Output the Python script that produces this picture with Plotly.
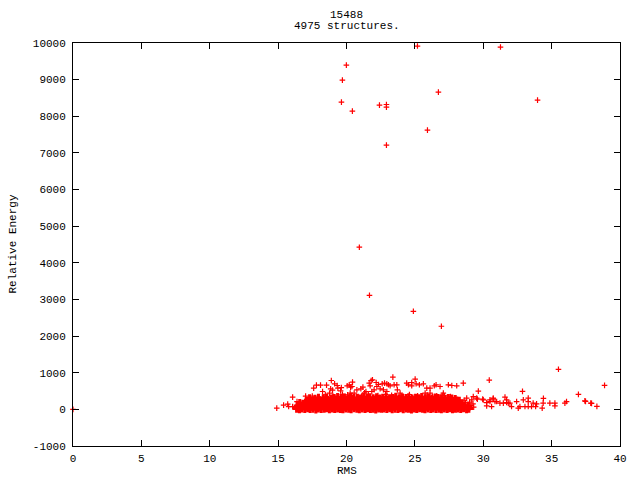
import plotly.graph_objects as go

# ---------------- data ----------------
title_lines = ["15488", "4975 structures."]
x_label = "RMS"
y_label = "Relative Energy"
x_ticks = [0, 5, 10, 15, 20, 25, 30, 35, 40]
y_ticks = [-1000, 0, 1000, 2000, 3000, 4000, 5000, 6000, 7000, 8000, 9000, 10000]

# isolated high-energy structures
high_x = [0.0, 25.19, 31.26, 19.99, 19.70, 26.72, 19.63, 33.97, 22.41, 22.92, 22.92, 20.43,
          25.92, 22.92, 20.94, 21.68, 24.89, 26.94, 35.50, 38.87, 36.96, 37.48, 37.92,
          38.31, 32.87, 34.40]
high_y = [0, 9917, 9890, 9397, 8988, 8660, 8387, 8442, 8305, 8322, 8250, 8141,
          7622, 7212, 4426, 3114, 2677, 2268, 1093, 656, 410, 219, 164,
          82, 492, 300]

# scattered structures around the dense band
sparse_x = [14.9, 15.4, 15.7, 15.77, 16.06, 16.06, 16.38, 17.01, 17.6, 17.8, 18.1, 18.25,
            18.54, 18.89, 19.13, 18.84, 18.98, 19.32, 19.37, 19.62, 19.57, 18.76, 20.05,
            20.2, 20.3, 20.4, 20.44, 20.27, 20.08, 20.56, 20.76, 21.05, 21.2, 21.32, 21.42,
            21.66, 21.73, 21.8, 21.9, 22.17, 22.22, 22.34, 22.61, 22.78, 22.95, 23.07,
            21.85, 22.02, 22.46, 22.7, 22.95,
            23.39, 25.02, 30.44, 28.54, 29.64, 23.19, 23.48, 23.68, 24.4, 24.53, 24.77,
            25.09, 25.33, 25.62, 24.77, 25.87, 26.11, 26.42, 26.55, 26.84, 27.45, 27.7,
            28.06, 23.72, 23.92, 25.75, 26.11, 26.6, 27.08, 27.16,
            28.79, 29.16, 29.57, 29.96, 30.25, 30.49, 30.73, 30.86, 31.22, 31.59, 31.71,
            31.83, 30.25, 30.61, 29.27, 29.52, 30.0, 30.49, 30.73, 30.98, 31.71, 31.47,
            31.95, 32.07, 32.44, 32.56, 32.93, 33.29, 33.29, 33.65, 33.9, 34.38, 34.87,
            35.24, 35.24, 32.68, 33.05, 33.29, 33.53, 33.83, 34.31, 35.97, 36.09, 37.43,
            37.86, 28.9, 29.1, 29.3, 28.7, 29.0, 29.25, 28.6]
sparse_y = [33, 115, 142, 77, 77, 334, 213, 361, 580, 662, 662, 487,
            662, 788, 698, 561, 525, 651, 580, 596, 506, 443, 643,
            670, 607, 624, 744, 443, 397, 443, 534, 561, 607, 451, 487,
            717, 643, 788, 807, 733, 624, 679, 698, 717, 698, 670,
            487, 534, 561, 534, 487,
            880, 826, 799, 717, 498, 643, 670, 670, 717, 670, 733,
            698, 670, 698, 643, 580, 580, 643, 670, 624, 670, 651,
            643, 534, 443, 443, 443, 369, 443, 369,
            306, 260, 279, 279, 186, 213, 287, 213, 170, 334, 186,
            170, 96, 77, 350, 306, 260, 260, 306, 213, 260, 170,
            170, 77, 213, 33, 260, 306, 213, 170, 151, 170, 170,
            170, 96, 77, 77, 77, 77, 77, 33, 170, 213, 232,
            170, 40, 110, 60, 180, 200, 150, 250]

# dense band of low-energy structures (rows of overlapping points)
rowA_x = [16.35, 16.56, 16.74, 16.95, 17.16, 17.34, 17.55, 17.76, 17.94, 18.15, 18.36, 18.54,
          18.75, 18.96, 19.14, 19.35, 19.56, 19.74, 19.95, 20.16, 20.34, 20.55, 20.76, 20.94,
          21.15, 21.36, 21.54, 21.75, 21.96, 22.14, 22.35, 22.56, 22.74, 22.95, 23.16, 23.34,
          23.55, 23.76, 23.94, 24.15, 24.36, 24.54, 24.75, 24.96, 25.14, 25.35, 25.56, 25.74,
          25.95, 26.16, 26.34, 26.55, 26.76, 26.94, 27.15, 27.36, 27.54, 27.75, 27.96, 28.14,
          28.35, 28.56, 28.78, 28.95]
rowA_y = [22, 10, 30, 18, 35, 12, 25, 5, 28, 15, 20, 38, 8, 26, 14, 32, 18, 6, 29, 21,
          11, 34, 24, 9, 27, 16, 36, 13, 23, 4, 31, 19, 26, 12, 37, 7, 24, 17, 33, 10,
          28, 20, 5, 30, 15, 35, 22, 9, 27, 13, 32, 18, 25, 6, 29, 16, 38, 11, 21, 26,
          14, 33, 8, 24]
rowB_x = [16.45, 16.66, 16.84, 17.05, 17.26, 17.44, 17.65, 17.86, 18.04, 18.25, 18.46, 18.64,
          18.85, 19.06, 19.24, 19.45, 19.66, 19.84, 20.05, 20.26, 20.44, 20.65, 20.86, 21.04,
          21.25, 21.46, 21.64, 21.85, 22.06, 22.24, 22.45, 22.66, 22.84, 23.05, 23.26, 23.44,
          23.65, 23.86, 24.04, 24.25, 24.46, 24.64, 24.85, 25.06, 25.24, 25.45, 25.66, 25.84,
          26.05, 26.26, 26.44, 26.65, 26.86, 27.04, 27.25, 27.46, 27.64, 27.85, 28.06, 28.24,
          28.45, 28.66, 28.88]
rowB_y = [92, 80, 101, 86, 95, 78, 104, 88, 83, 97, 90, 76, 99, 85, 103, 81, 94, 87, 100, 79,
          96, 84, 91, 105, 82, 93, 77, 98, 89, 102, 86, 95, 80, 100, 88, 75, 97, 83, 92, 104,
          79, 94, 87, 99, 82, 91, 103, 85, 96, 78, 101, 89, 84, 98, 93, 80, 95, 87, 102, 76,
          90, 97, 85]
rowC_x = [16.58, 16.81, 17.0, 17.19, 17.42, 17.6, 17.79, 18.02, 18.2, 18.39, 18.62, 18.8,
          18.99, 19.22, 19.4, 19.59, 19.82, 20.0, 20.19, 20.42, 20.6, 20.79, 21.02, 21.2,
          21.39, 21.62, 21.8, 21.99, 22.22, 22.4, 22.59, 22.82, 23.0, 23.19, 23.42, 23.6,
          23.79, 24.02, 24.2, 24.39, 24.62, 24.8, 24.99, 25.22, 25.4, 25.59, 25.82, 26.0,
          26.19, 26.42, 26.6, 26.79, 27.02, 27.2, 27.39, 27.62, 27.8, 27.99, 28.22, 28.4]
rowC_y = [165, 150, 172, 158, 145, 168, 155, 175, 148, 162, 170, 152, 160, 146, 174, 157, 166, 149, 171, 154,
          163, 147, 169, 159, 176, 151, 164, 156, 144, 173, 161, 153, 167, 149, 158, 175, 146, 162, 170, 155,
          148, 166, 159, 172, 151, 164, 145, 168, 157, 174, 150, 163, 156, 171, 147, 165, 160, 153, 169, 158]
rowD_x = [17.05, 17.26, 17.44, 17.65, 17.86, 18.04, 18.25, 18.46, 18.64, 18.85,
          19.06, 19.24, 19.45, 19.66, 19.84, 20.05, 20.26, 20.44, 20.65, 20.86,
          21.04, 21.25, 21.46, 21.64, 21.85, 22.06, 22.24, 22.45, 22.66, 22.84,
          23.05, 23.26, 23.44, 23.65, 23.86, 24.04, 24.25, 24.46, 24.64, 24.85,
          25.06, 25.24, 25.45, 25.66, 25.84, 26.05, 26.26, 26.44, 26.65, 26.86,
          27.04, 27.25, 27.46, 27.64, 27.85, 28.06, 28.25]
rowD_y = [215, 222, 210, 236, 228, 244, 219, 238, 250, 226, 241, 232, 248, 221, 237, 252, 229, 243, 224, 246,
          235, 251, 227, 240, 233, 249, 222, 245, 238, 230, 247, 225, 242, 253, 231, 239, 220, 248, 234, 244,
          226, 250, 237, 223, 246, 232, 241, 228, 249, 236, 243, 224, 239, 231, 220, 235, 228]
rowE_x = [17.3, 17.7, 17.95, 18.3, 18.55, 18.9, 19.1, 19.35, 19.6, 19.85, 20.1, 20.3, 20.55, 20.8,
          21.0, 21.25, 21.5, 21.7, 21.95, 22.2, 22.45, 22.65, 22.9, 23.15, 23.4, 23.6, 23.85, 24.1,
          24.35, 24.55, 24.8, 25.05, 25.3, 25.5, 25.75, 26.0, 26.25, 26.5, 26.7, 26.95, 27.2, 27.45,
          27.7, 27.95]
rowE_y = [300, 285, 312, 295, 320, 290, 305, 330, 298, 315, 288, 325, 302, 310, 293, 335, 306, 318,
          296, 328, 290, 312, 322, 300, 308, 336, 295, 316, 304, 326, 292, 314, 300, 332, 297, 310,
          288, 320, 303, 296, 284, 308, 292, 280]
rowF_x = [17.5, 18.45, 19.0, 19.7, 20.35, 21.1, 21.6, 22.3, 22.85, 23.3, 24.0, 24.6, 25.2, 25.9,
          26.3, 27.0, 27.6]
rowF_y = [360, 395, 370, 410, 380, 365, 420, 375, 400, 385, 360, 405, 372, 390, 355, 382, 350]

# ---------------- figure ----------------
FONT = "Liberation Mono"
RED = "#ff0000"
core_marker = dict(symbol="cross-thin", size=6, color=RED, line=dict(color=RED, width=3))
point_marker = dict(symbol="cross-thin", size=4, color=RED, line=dict(color=RED, width=1.2))

fig = go.Figure()
core = [(rowA_x, rowA_y), (rowB_x, rowB_y), (rowC_x, rowC_y), (rowD_x, rowD_y),
        (rowE_x, rowE_y)]
loose = [(rowF_x, rowF_y), (sparse_x, sparse_y), (high_x, high_y)]
for gx, gy in core:
    fig.add_trace(go.Scatter(x=gx, y=gy, mode="markers", marker=core_marker,
                             showlegend=False, hoverinfo="skip", cliponaxis=False))
for gx, gy in loose:
    fig.add_trace(go.Scatter(x=gx, y=gy, mode="markers", marker=point_marker,
                             showlegend=False, hoverinfo="skip", cliponaxis=False))

axis_common = dict(showgrid=False, zeroline=False, showline=True, linecolor="black",
                   linewidth=1, mirror="ticks", ticks="inside", ticklen=6, tickwidth=1,
                   tickcolor="black", tickfont=dict(family=FONT, size=11, color="black"))

fig.update_xaxes(range=[0, 40], tickvals=x_ticks, ticktext=[str(v) for v in x_ticks],
                 ticklabelstandoff=2, **axis_common)
fig.update_yaxes(range=[-1000, 10000], tickvals=y_ticks, ticktext=[str(v) for v in y_ticks],
                 ticklabelstandoff=4, **axis_common)

ann = dict(xref="paper", yref="paper", showarrow=False,
           font=dict(family=FONT, size=11, color="black"))
annotations = [
    dict(text=title_lines[0], x=0.5, y=1, yanchor="middle", yshift=28, **ann),
    dict(text=title_lines[1], x=0.5, y=1, yanchor="middle", yshift=17, **ann),
    dict(text=x_label, x=0.5, y=0, yanchor="middle", yshift=-25, **ann),
    dict(text=y_label, x=0, y=0.5, xanchor="center", xshift=-61, textangle=-90, **ann),
]

fig.update_layout(width=640, height=480, margin=dict(l=73, r=20, t=43, b=34),
                  paper_bgcolor="white", plot_bgcolor="white",
                  annotations=annotations, showlegend=False)

fig.write_html("out.html", config={"displayModeBar": False},
               post_script="document.body.style.margin='0px';document.body.style.padding='0px';")
